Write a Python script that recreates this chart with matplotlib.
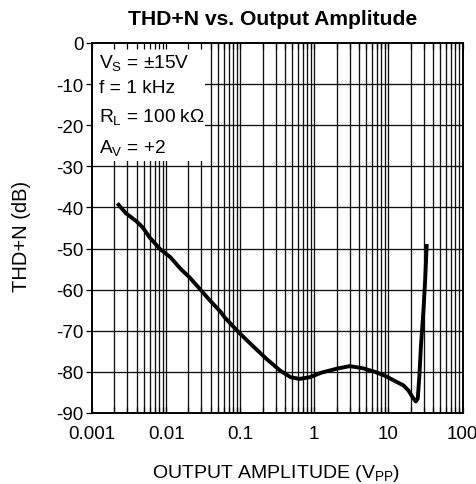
import numpy as np
import matplotlib
matplotlib.use("Agg")
import matplotlib.pyplot as plt
from matplotlib.patches import Rectangle

plt.rcParams['font.family'] = ['Liberation Sans', 'DejaVu Sans']
plt.rcParams['mathtext.fontset'] = 'custom'
plt.rcParams['mathtext.rm'] = 'Liberation Sans'
plt.rcParams['mathtext.it'] = 'Liberation Sans'
plt.rcParams['mathtext.bf'] = 'Liberation Sans:bold'

# Data
amplitude_vpp = [0.0022, 0.00286, 0.00394, 0.00486, 0.0060, 0.00826, 0.0114, 0.0158, 0.0207,
                 0.0272, 0.0376, 0.055, 0.0614, 0.0946, 0.146, 0.225, 0.347, 0.48, 0.63,
                 0.87, 1.24, 2.03, 3.0, 4.47, 6.6, 8.9, 11.9, 16.0, 18.6, 21.1, 23.4,
                 24.9, 26.2, 27.5, 29.6, 31.4, 32.9]
thdn_db = [-39.0, -41.4, -43.3, -44.9, -47.3, -50.1, -52.1, -55.0, -57.0,
           -59.4, -62.3, -65.5, -66.7, -70.3, -73.6, -76.8, -79.7, -81.3, -81.7,
           -81.3, -80.2, -79.2, -78.6, -79.1, -80.0, -80.9, -82.1, -83.3, -84.5, -86.1, -87.2,
           -86.5, -80.9, -73.6, -65.5, -57.4, -48.9]

yticks = [0, -10, -20, -30, -40, -50, -60, -70, -80, -90]
ytick_labels = ["0", "-10", "-20", "-30", "-40", "-50", "-60", "-70", "-80", "-90"]
xticks = [0.001, 0.01, 0.1, 1, 10, 100]
xtick_labels = ["0.001", "0.01", "0.1", "1", "10", "100"]
conditions = ["V$_\\mathregular{S}$ = \u00b115V", "f = 1 kHz",
              "R$_\\mathregular{L}$ = 100 k\u03a9", "A$_\\mathregular{V}$ = +2"]

W, H = 477, 485
fig = plt.figure(figsize=(W/100, H/100), dpi=100)
L, R, T, B = 92, 462.5, 44, 414
ax = fig.add_axes([L/W, 1-B/H, (R-L)/W, (B-T)/H])
ax.set_xscale('log')
ax.set_xlim(0.001, 100)
ax.set_ylim(-90, 0)

# grid
for dec in [0.001, 0.01, 0.1, 1, 10]:
    for m in range(1, 10):
        v = dec*m
        if 0.001 < v < 100:
            ax.axvline(v, color='#111111', lw=0.95, zorder=1)
for yv in yticks[1:-1]:
    ax.axhline(yv, color='#111111', lw=0.95, zorder=1)

# condition box
ax.add_patch(Rectangle((0, 0.681), 0.305, 0.319, transform=ax.transAxes,
                       facecolor='white', edgecolor='none', zorder=1.5))
ys = [0.935, 0.868, 0.790, 0.706]
for s, yy in zip(conditions, ys):
    ax.text(0.019, yy, s, transform=ax.transAxes, fontsize=13.8, va='baseline', ha='left', zorder=2)

ax.plot(amplitude_vpp, thdn_db, color='black', lw=2.8, zorder=3,
        solid_capstyle='butt', solid_joinstyle='round')

ax.set_axisbelow(False)
ax.set_xticks(xticks)
ax.set_xticklabels(xtick_labels)
ax.set_yticks(yticks)
ax.set_yticklabels(ytick_labels)
ax.xaxis.set_minor_locator(matplotlib.ticker.LogLocator(base=10, subs=np.arange(2, 10)))
ax.xaxis.set_minor_formatter(matplotlib.ticker.NullFormatter())
ax.tick_params(axis='x', which='both', direction='in', top=True, bottom=True, length=4.5,
               width=0.9, labelsize=13.5, pad=9)
ax.tick_params(axis='y', which='both', direction='out', left=True, right=False, length=4.5,
               width=0.9, labelsize=13.5, pad=1.5)
for sp in ax.spines.values():
    sp.set_linewidth(1.4)

fig.text(272.5/W, 1-25/H, "THD+N vs. Output Amplitude", fontsize=15.2, fontweight='bold',
         ha='center', va='baseline')
ax.set_ylabel("THD+N (dB)", fontsize=14.5)
ax.yaxis.set_label_coords((21.5-L)/(R-L), (B-236.5)/(B-T))
ax.yaxis.label.set_va('center')
ax.set_xlabel("OUTPUT AMPLITUDE (V$_\\mathregular{PP}$)", fontsize=14)
ax.xaxis.set_label_coords((276-L)/(R-L), (B-478)/(B-T))
ax.xaxis.label.set_va('baseline')

fig.savefig("out.png", dpi=100)
